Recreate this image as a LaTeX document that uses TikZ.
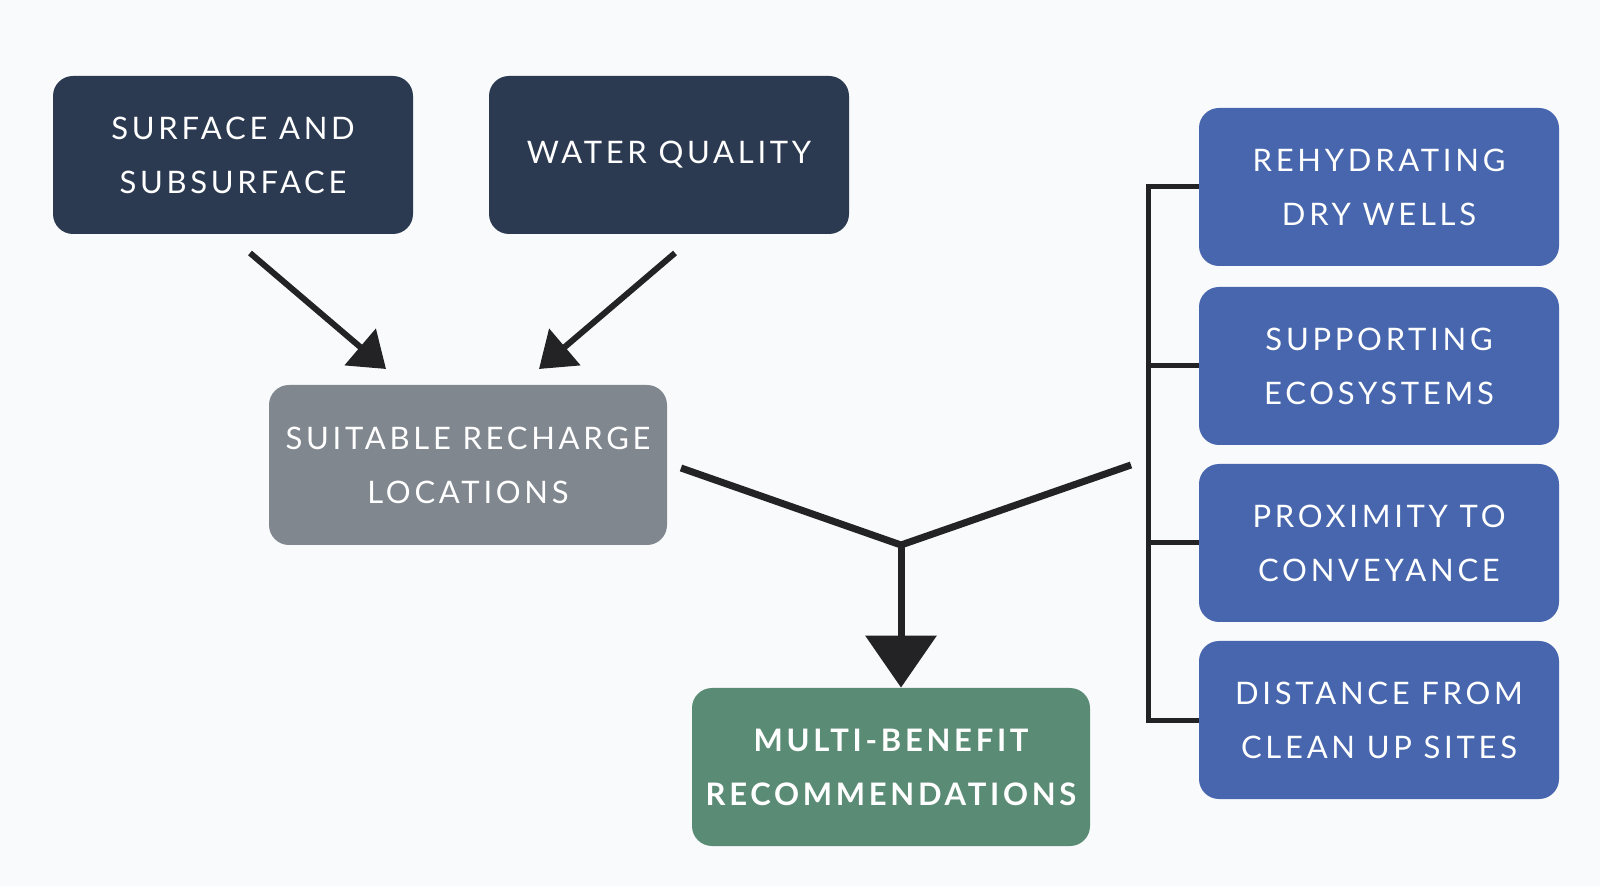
\documentclass[tikz,border=0pt]{standalone}
\usepackage{fontspec}
\setmainfont{Lato}
\newfontfamily\wide[LetterSpace=12]{Lato}
\usetikzlibrary{arrows.meta}

\definecolor{navy}{HTML}{2C3A51}
\definecolor{slate}{HTML}{80878F}
\definecolor{sage}{HTML}{5A8B74}
\definecolor{cobalt}{HTML}{4766AD}
\definecolor{paper}{HTML}{F9FAFC}
\definecolor{ink}{HTML}{232326}

\tikzset{
  box/.style={rounded corners=10pt, minimum width=180pt, minimum height=79pt,
    inner sep=0pt, align=center, text=white, font=\wide\fontsize{15.5}{27}\selectfont},
  input/.style={box, fill=navy},
  site/.style={box, fill=slate, minimum width=199pt, minimum height=80pt},
  result/.style={box, fill=sage, minimum width=199pt, font=\wide\bfseries\fontsize{15.5}{27}\selectfont},
  factor/.style={box, fill=cobalt},
  feed/.style={ink, line width=3pt, -{Triangle[length=17pt,width=23.5pt]}},
  merge/.style={ink, line width=3.5pt},
  brace/.style={ink, line width=2.5pt}
}

\begin{document}
\begin{tikzpicture}[x=0.5pt, y=-0.5pt]
\fill[paper] (0,0) rectangle (1600,886);
\useasboundingbox (0,0) rectangle (1600,886);

% inputs
\node[input] (surf) at (233,155) {SURFACE AND\\SUBSURFACE};
\node[input] (qual) at (669,155) {WATER QUALITY};
\node[site] (site) at (468,465) {SUITABLE RECHARGE\\LOCATIONS};
\node[result] (reco) at (891,767) {MULTI-BENEFIT\\RECOMMENDATIONS};

% benefits
\node[factor] (dry) at (1379,187) {REHYDRATING\\DRY WELLS};
\node[factor] (eco) at (1379,366) {SUPPORTING\\ECOSYSTEMS};
\node[factor] (conv) at (1379,543) {PROXIMITY TO\\CONVEYANCE};
\node[factor] (clean) at (1379,720) {DISTANCE FROM\\CLEAN UP SITES};

\coordinate (s1) at (250,253);
\coordinate (t1) at (386,369);
\coordinate (s2) at (675,253);
\coordinate (t2) at (539,369);
\draw[feed] (s1)--(t1);
\draw[feed] (s2)--(t2);

% merge
\coordinate (ya) at (681,468);
\coordinate (yb) at (1131,465);
\coordinate (jn) at (901,545);
\draw[merge, line join=miter] (ya)--(jn)--(yb);
\draw[merge, -{Triangle[length=26pt,width=35pt]}] (jn)--(jn|-reco.north);

% bracket
\coordinate (bx) at (1148,0);
\draw[brace] (dry.west)--(bx|-dry)--(bx|-clean)--(clean.west);
\draw[brace] (bx|-eco)--(eco.west);
\draw[brace] (bx|-conv)--(conv.west);
\end{tikzpicture}
\end{document}
